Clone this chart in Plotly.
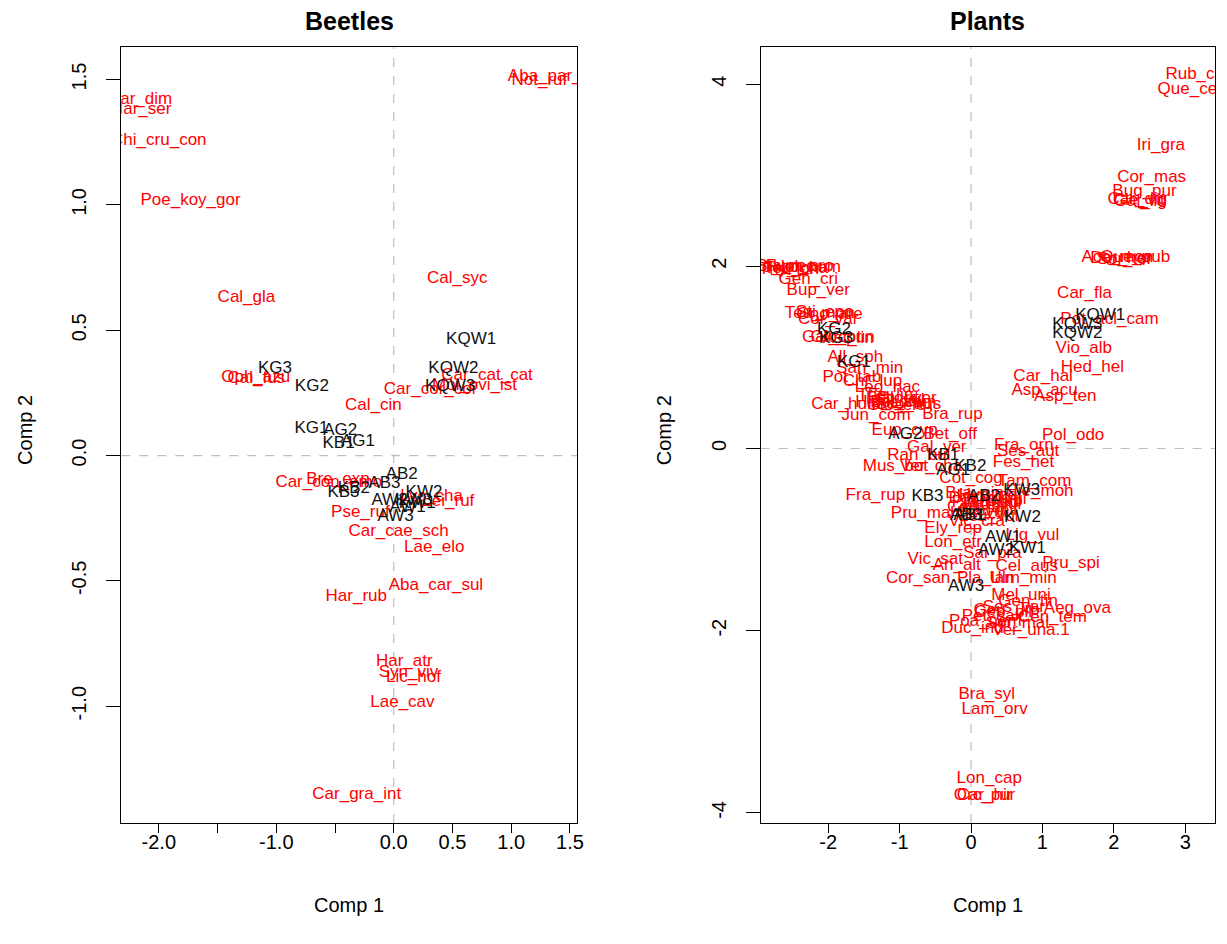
import plotly.graph_objects as go

# ---------------- Beetles ----------------
beetle_species = ["Har_dim", "Har_ser", "Chi_cru_con", "Poe_koy_gor", "Aba_par_par", "Not_ruf",
                  "Cal_syc", "Cal_gla", "Oph_azu", "Cal_fus", "Car_cat_cat", "Mol_ovi_ist",
                  "Car_cor_cor", "Cal_cin", "Bre_exp", "Car_con_emo", "Lyc_cha", "Lei_ruf",
                  "Pse_ruf", "Car_cae_sch", "Lae_elo", "Aba_car_sul", "Har_rub", "Har_atr",
                  "Syn_viv", "Lic_hof", "Lae_cav", "Car_gra_int"]
beetle_sp_x = [-2.16, -2.15, -2.0, -1.73, 1.39, 1.24, 0.54, -1.254, -1.175, -1.17, 0.794, 0.688,
               0.314, -0.174, -0.475, -0.553, 0.322, 0.465, -0.284, 0.041, 0.345, 0.359, -0.319,
               0.09, 0.126, 0.168, 0.074, -0.315]
beetle_sp_y = [1.420, 1.381, 1.257, 1.018, 1.512, 1.496, 0.705, 0.629, 0.310, 0.308, 0.317, 0.280,
               0.263, 0.199, -0.098, -0.108, -0.163, -0.186, -0.227, -0.302, -0.368, -0.519, -0.563,
               -0.824, -0.867, -0.887, -0.987, -1.352]

beetle_sites = ["KG1", "KG2", "KG3", "AG1", "AG2", "KB1", "KB2", "KB3", "AB2", "AB3",
                "KW1", "KW2", "KW3", "AW1", "AW2", "AW3", "KQW1", "KQW2", "KQW3"]
beetle_site_x = [-0.70, -0.697, -1.011, -0.305, -0.456, -0.47, -0.339, -0.428, 0.068, -0.079,
                 0.20, 0.258, 0.17, 0.119, -0.036, 0.017, 0.659, 0.508, 0.48]
beetle_site_y = [0.108, 0.273, 0.347, 0.055, 0.097, 0.046, -0.133, -0.149, -0.076, -0.111,
                 -0.192, -0.147, -0.182, -0.208, -0.182, -0.245, 0.463, 0.346, 0.274]

# ---------------- Plants ----------------
plant_species = ["Rub_can", "Que_cer", "Iri_gra", "Cor_mas", "Bug_pur", "Cle_vit", "Car_dig", "Gal_lig",
                 "Que_pub", "Ace_mon", "Sor_tor", "Dor_her", "Car_fla", "Pot_acl_cam", "Vio_alb",
                 "Hed_hel", "Car_hal", "Asp_acu", "Asp_ten", "Pol_odo", "Fra_orn", "Ses_aut", "Fes_het",
                 "Bra_rup", "Jun_com", "Eup_cyp", "Bet_off", "Gal_ver", "Ran_bul", "Mus_bot", "Ver_cha",
                 "Cot_cog", "Tam_com", "Hie_moh", "Fra_rup", "Pru_mah", "Ely_rep", "Lon_etr", "Lig_vul",
                 "Sal_pra", "Vic_sat", "Pru_spi", "Cel_aus", "Ari_alt", "Cor_san", "Ulm_min", "Pla_lan",
                 "Aeg_ova", "Cen_tem", "Duc_ind", "Ver_una.1", "Bra_syl", "Lam_orv", "Lon_cap",
                 "Car_hir", "Orc_pur", "Gen_cri", "Bup_ver", "All_sph", "San_min", "Pot_tab", "Chr_lup",
                 "Leo_hac", "Car_hum",
                 "Hel_num", "Teu_cha", "Sta_rec", "Glo_cor", "Fum_pro", "Thy_lon",
                 "Teu_mon", "Sti_epo", "Ono_are", "Cor_var", "Gal_cor", "Glo_pun", "Ast_lin",
                 "The_lin", "Ech_rit", "Sil_vul", "Pol_com", "Sco_aus", "Hip_com", "Glo_ele", "Glo_ver",
                 "Bra_pin", "Dac_glo", "Pla_med", "Hyp_per", "Tri_rub", "Cen_jac", "Ach_mil", "Pru_vul",
                 "Cli_vul", "Leu_vul", "Ori_vul", "Vic_cra",
                 "Mel_uni", "Gen_tin", "Ses_var", "Cep_pil", "Pet_sax", "Poa_nem", "Geu_urb", "Sor_mai"]
plant_sp_x = [3.20, 3.07, 2.66, 2.53, 2.43, 2.35, 2.33, 2.37,
              2.30, 2.05, 2.15, 2.10, 1.59, 1.94, 1.58,
              1.70, 1.01, 1.03, 1.32, 1.43, 0.74, 0.80, 0.735,
              -0.26, -1.33, -0.93, -0.29, -0.48, -0.73, -1.06, -0.56,
              0.0, 0.89, 0.96, -1.34, -0.64, -0.25, -0.25, 0.86,
              0.30, -0.50, 1.40, 0.78, -0.20, -0.74, 0.73, 0.20,
              1.49, 1.14, 0.02, 0.84, 0.22, 0.33, 0.255,
              0.19, 0.19, -2.28, -2.14, -1.62, -1.42, -1.67, -1.38,
              -1.17, -1.75,
              -2.30, -2.45, -2.60, -2.75, -2.40, -2.55,
              -2.12, -2.05, -1.98, -2.0, -1.95, -1.80, -1.72,
              -1.20, -1.10, -1.00, -0.95, -0.88, -1.15, -1.05, -0.90,
              0.05, 0.12, 0.20, 0.28, 0.35, 0.10, 0.22, 0.30,
              0.15, 0.25, 0.40, 0.08,
              0.70, 0.80, 0.60, 0.45, 0.30, 0.20, 0.50, 0.65]
plant_sp_y = [4.10, 3.94, 3.32, 2.97, 2.82, 2.72, 2.73, 2.71,
              2.09, 2.09, 2.07, 2.08, 1.70, 1.41, 1.09,
              0.89, 0.79, 0.63, 0.57, 0.135, 0.033, -0.04, -0.16,
              0.37, 0.36, 0.20, 0.15, 0.01, -0.08, -0.205, -0.20,
              -0.33, -0.37, -0.48, -0.52, -0.72, -0.88, -1.03, -0.96,
              -1.15, -1.22, -1.26, -1.30, -1.29, -1.43, -1.43, -1.43,
              -1.76, -1.86, -1.98, -2.0, -2.70, -2.87, -3.63,
              -3.81, -3.81, 1.85, 1.73, 1.00, 0.876, 0.78, 0.73,
              0.67, 0.48,
              1.98, 1.97, 1.99, 1.98, 2.00, 1.96,
              1.48, 1.49, 1.47, 1.41, 1.22, 1.22, 1.21,
              0.58, 0.55, 0.52, 0.50, 0.48, 0.50, 0.47, 0.55,
              -0.50, -0.55, -0.60, -0.52, -0.58, -0.65, -0.68, -0.62,
              -0.70, -0.75, -0.56, -0.80,
              -1.62, -1.68, -1.75, -1.80, -1.85, -1.90, -1.78, -1.92]

plant_sites = ["KG1", "KG2", "KG3", "AG1", "AG2", "KB1", "KB2", "KB3", "AB1", "AB2", "AB3",
               "KW1", "KW2", "KW3", "AW1", "AW2", "AW3", "KQW1", "KQW2", "KQW3"]
plant_site_x = [-1.64, -1.92, -1.89, -0.25, -0.92, -0.39, -0.01, -0.61, -0.02, 0.18, -0.07,
                0.79, 0.72, 0.71, 0.45, 0.35, -0.07, 1.81, 1.49, 1.49]
plant_site_y = [0.94, 1.30, 1.21, -0.24, 0.15, -0.08, -0.205, -0.535, -0.74, -0.535, -0.74,
                -1.10, -0.755, -0.46, -0.98, -1.12, -1.52, 1.46, 1.26, 1.36]

FONT = "Liberation Sans, Arial, sans-serif"
LBL = 17

# page body has an 8px margin; lay out in reference-pixel coordinates
OFF = 8
W, H = 1227 - OFF, 944 - OFF
TOP, BOT = 47, 823


def dx(px):
    return (px - OFF) / W


def dy(py):
    return 1 - (py - OFF) / H


fig = go.Figure()
fig.add_trace(go.Scatter(x=beetle_sp_x, y=beetle_sp_y, text=beetle_species, mode="text",
                         textfont=dict(color="#ff0000", size=LBL, family=FONT),
                         textposition="middle center", xaxis="x", yaxis="y", hoverinfo="text"))
fig.add_trace(go.Scatter(x=beetle_site_x, y=beetle_site_y, text=beetle_sites, mode="text",
                         textfont=dict(color="#111111", size=LBL, family=FONT),
                         textposition="middle center", xaxis="x", yaxis="y", hoverinfo="text"))
fig.add_trace(go.Scatter(x=plant_sp_x, y=plant_sp_y, text=plant_species, mode="text",
                         textfont=dict(color="#ff0000", size=LBL, family=FONT),
                         textposition="middle center", xaxis="x2", yaxis="y2", hoverinfo="text"))
fig.add_trace(go.Scatter(x=plant_site_x, y=plant_site_y, text=plant_sites, mode="text",
                         textfont=dict(color="#111111", size=LBL, family=FONT),
                         textposition="middle center", xaxis="x2", yaxis="y2", hoverinfo="text"))

yd = [dy(BOT), dy(TOP)]
axis_common = dict(showgrid=False, zeroline=False, showline=True, mirror=True, linecolor="black",
                   linewidth=1, ticks="outside", tickcolor="black",
                   tickfont=dict(family=FONT, size=20, color="black"))

fig.update_layout(
    width=W, height=H, showlegend=False,
    paper_bgcolor="white", plot_bgcolor="white",
    margin=dict(l=0, r=0, t=0, b=0),
    xaxis=dict(domain=[dx(122), dx(580.5)], range=[-2.319, 1.562],
               tickvals=[-2.0, -1.5, -1.0, -0.5, 0.0, 0.5, 1.0, 1.5],
               ticktext=["-2.0", "", "-1.0", "", "0.0", "0.5", "1.0", "1.5"],
               anchor="y", ticklen=9, ticklabelstandoff=-8, **axis_common),
    yaxis=dict(domain=yd, range=[-1.466, 1.630],
               tickvals=[-1.0, -0.5, 0.0, 0.5, 1.0, 1.5],
               ticktext=["-1.0", "-0.5", "0.0", "0.5", "1.0", "1.5"],
               tickangle=-90, anchor="x", ticklen=14, ticklabelstandoff=12, **axis_common),
    xaxis2=dict(domain=[dx(765), dx(1222)], range=[-2.947, 3.418],
                tickvals=[-2, -1, 0, 1, 2, 3], ticktext=["-2", "-1", "0", "1", "2", "3"],
                anchor="y2", ticklen=9, ticklabelstandoff=-8, **axis_common),
    yaxis2=dict(domain=yd, range=[-4.111, 4.407],
                tickvals=[-4, -2, 0, 2, 4], ticktext=["-4", "-2", "0", "2", "4"],
                tickangle=-90, anchor="x2", ticklen=14, ticklabelstandoff=12, **axis_common),
)

dash = dict(color="#bebebe", width=1.2, dash="dash")
fig.add_shape(type="line", xref="x", yref="y domain", x0=0, x1=0, y0=0, y1=1, line=dash, layer="below")
fig.add_shape(type="line", xref="x domain", yref="y", x0=0, x1=1, y0=0, y1=0, line=dash, layer="below")
fig.add_shape(type="line", xref="x2", yref="y2 domain", x0=0, x1=0, y0=0, y1=1, line=dash, layer="below")
fig.add_shape(type="line", xref="x2 domain", yref="y2", x0=0, x1=1, y0=0, y1=0, line=dash, layer="below")

ann = []
for xc, title in [((122 + 580.5) / 2, "Beetles"), ((765 + 1222) / 2, "Plants")]:
    ann.append(dict(x=dx(xc), y=dy(21), xref="paper", yref="paper", text="<b>" + title + "</b>",
                    showarrow=False, font=dict(family=FONT, size=25, color="black"),
                    xanchor="center", yanchor="middle"))
    ann.append(dict(x=dx(xc), y=dy(905), xref="paper", yref="paper", text="Comp 1",
                    showarrow=False, font=dict(family=FONT, size=20, color="black"),
                    xanchor="center", yanchor="middle"))
for xp in [25, 668]:
    ann.append(dict(x=dx(xp), y=dy(430), xref="paper", yref="paper", text="Comp 2", textangle=-90,
                    showarrow=False, font=dict(family=FONT, size=20, color="black"),
                    xanchor="center", yanchor="middle"))
fig.update_layout(annotations=ann)

fig.write_html("out.html")
